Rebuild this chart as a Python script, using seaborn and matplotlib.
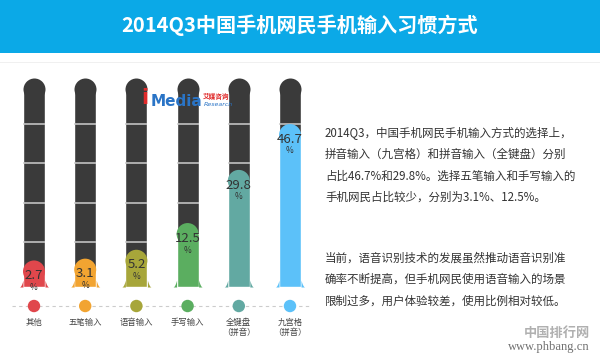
import numpy as np
import matplotlib
matplotlib.use("Agg")
import matplotlib.pyplot as plt
import seaborn as sns
from matplotlib.patches import Rectangle

# ---- data ----
categories = ["其他", "五笔输入", "语音输入", "手写输入", "全键盘\n（拼音）", "九宫格\n（拼音）"]
values = [2.7, 3.1, 5.2, 12.5, 29.8, 46.7]
colors = ["#E0474C", "#F2A431", "#A7A63A", "#5BAE60", "#62A9A2", "#5CC1F9"]
title = "2014Q3中国手机网民手机输入习惯方式"
para1 = ["2014Q3，中国手机网民手机输入方式的选择上，",
         "拼音输入（九宫格）和拼音输入（全键盘）分别",
         "占比46.7%和29.8%。选择五笔输入和手写输入的",
         "手机网民占比较少，分别为3.1%、12.5%。"]
para2 = ["当前，语音识别技术的发展虽然推动语音识别准",
         "确率不断提高，但手机网民使用语音输入的场景",
         "限制过多，用户体验较差，使用比例相对较低。"]
scale_top = 65.0

sns.set_theme(style="white")
plt.rcParams["font.family"] = ["Noto Sans CJK SC", "DejaVu Sans"]

W, H = 600, 361
fig = plt.figure(figsize=(6, 3.61), dpi=100, facecolor="white")

def fx(px):
    return px / W

def fy(py):
    return 1 - py / H

# title bar
fig.patches.append(Rectangle((0, fy(53)), 1, 53 / H, transform=fig.transFigure,
                             facecolor="#0BA9E7", edgecolor="none", zorder=0))
fig.patches.append(Rectangle((0, fy(63)), 1, 1.2 / H, transform=fig.transFigure,
                             facecolor="#F0F0F0", edgecolor="none", zorder=0))
fig.text(0.5, fy(25), title, ha="center", va="center", color="white",
         fontsize=14.5, fontweight="bold")

ax = fig.add_axes([fx(8.4), 74 / H, 307.2 / W, 198 / H])
ax.set_facecolor("white")

bw = 0.43
tube = "#3A3A3A"
sns.barplot(x=categories, y=[scale_top] * len(categories), color=tube, width=bw,
            errorbar=None, ax=ax, zorder=1, saturation=1)
sns.barplot(x=categories, y=values, hue=categories, palette=colors, width=bw,
            errorbar=None, ax=ax, legend=False, zorder=3, saturation=1)

p = 0.8
ax.set_yscale("function", functions=(lambda v: np.sign(v) * np.abs(v) ** p,
                                     lambda v: np.sign(v) * np.abs(v) ** (1 / p)))
ax.set_ylim(0, scale_top)
ax.set_xlim(-0.5, len(categories) - 0.5)

xs = np.arange(len(categories))
cap_s = (22 * 72 / 100) ** 2
# rounded caps
ax.scatter(xs, [scale_top] * len(xs), s=cap_s, color=tube, linewidths=0,
           zorder=1, clip_on=False)
ax.scatter(xs, values, s=cap_s, c=colors, linewidths=0, zorder=3, clip_on=False)

trans = ax.get_xaxis_transform()

# flared bases
fw, fh = 0.075, 0.035
t = np.linspace(0, 1, 30)
for x, c in zip(xs, colors):
    xl = x - bw / 2 - fw * (1 - t)
    xr = x + bw / 2 + fw * t
    ax.fill_between(xl, 0, fh * t ** 2, color=c, transform=trans, lw=0, zorder=3)
    ax.fill_between(xr, 0, fh * (1 - t) ** 2, color=c, transform=trans, lw=0, zorder=3)

# separators on tubes
for x in xs:
    for f in [0.225, 0.425, 0.625, 0.825]:
        ax.plot([x - bw / 2, x + bw / 2], [f, f], transform=trans,
                color="#CDCDCD", lw=1.1, zorder=2, solid_capstyle="butt")

# value labels
for x, v in zip(xs, values):
    ax.annotate(f"{v}", (x, v), xytext=(0, -3), textcoords="offset points",
                ha="center", va="center", fontsize=9.5, color="#333333", zorder=5)
    ax.annotate("%", (x, v), xytext=(0, -11.5), textcoords="offset points",
                ha="center", va="center", fontsize=6, color="#333333", zorder=5)

# dashed baseline and dots
ax.plot([-0.43, 5.39], [-0.096, -0.096], transform=trans, color="#CCCCCC",
        lw=0.8, ls=(0, (3, 3)), clip_on=False, zorder=1)
ax.scatter(xs, [-0.096] * len(xs), s=80, c=colors, linewidths=0,
           transform=trans, clip_on=False, zorder=2)

ax.tick_params(axis="x", length=0, pad=22, labelsize=6, labelcolor="#444444")
ax.tick_params(axis="y", left=False, labelleft=False)
for lab in ax.get_xticklabels():
    lab.set_linespacing(1.25)
ax.set_xlabel("")
ax.set_ylabel("")
for s in ax.spines.values():
    s.set_visible(False)

# logo
fig.text(fx(145), fy(98), "i", color="#E02A2A", fontsize=15, fontweight="bold",
         ha="center", va="center", family="DejaVu Sans", zorder=10)
fig.text(fx(151), fy(102), "Media", color="#2A74C6", fontsize=11, fontweight="bold",
         ha="left", va="center", family="DejaVu Sans", zorder=10)
fig.text(fx(203), fy(96.5), "艾媒咨询", color="#E02A2A", fontsize=4.8, fontweight="bold",
         ha="left", va="center", zorder=10)
fig.text(fx(204), fy(104), "Research", color="#2A74C6", fontsize=4.5, style="italic",
         ha="left", va="center", family="DejaVu Sans", zorder=10)

# paragraphs
for i, line in enumerate(para1):
    fig.text(fx(325), fy(133 + i * 21.5), line, ha="left", va="center",
             fontsize=8.3, color="#333333")
for i, line in enumerate(para2):
    fig.text(fx(325), fy(258 + i * 21.5), line, ha="left", va="center",
             fontsize=8.3, color="#333333")

# watermark
fig.text(fx(590), fy(333), "中国排行网", ha="right", va="center", fontsize=9.5,
         fontweight="bold", color="#B0B0B0")
fig.text(fx(590), fy(347), "www.phbang.cn", ha="right", va="center", fontsize=9,
         color="#707070", family="Liberation Serif")

fig.savefig("out.png", dpi=100, facecolor="white")
